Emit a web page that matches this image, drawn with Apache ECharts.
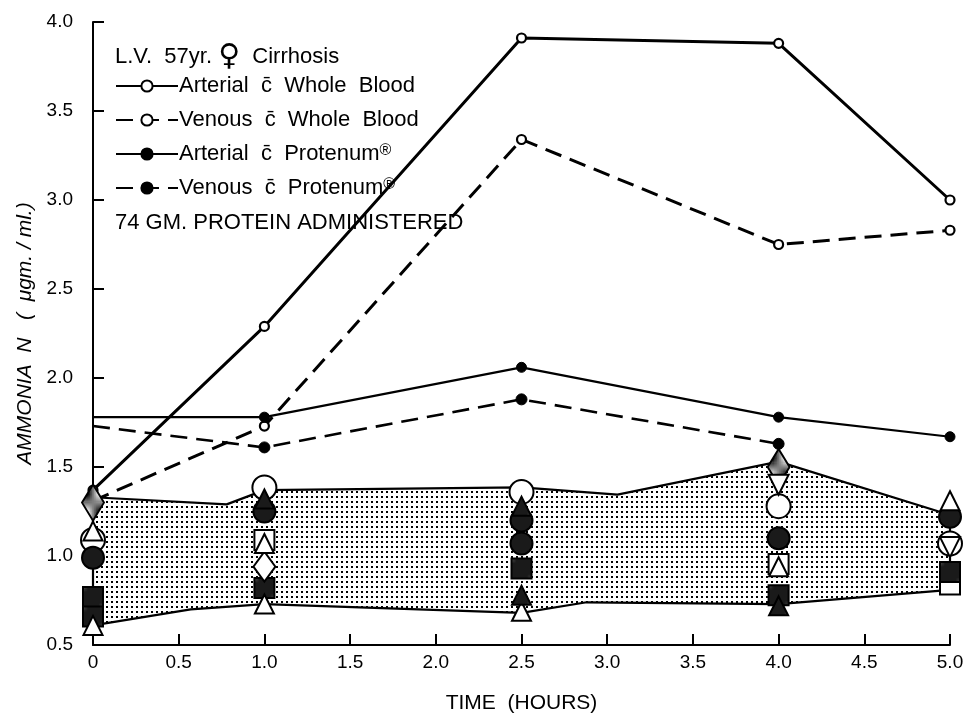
<!DOCTYPE html>
<html>
<head>
<meta charset="utf-8">
<script src="https://cdn.jsdelivr.net/npm/echarts@6/dist/echarts.min.js"></script>
<style>html,body{margin:0;padding:0;background:#fff;}#c{width:968px;height:714px;}</style>
</head>
<body>
<div id="c"></div>
<script>
// ---- data ----
const xTicks = [0, 0.5, 1.0, 1.5, 2.0, 2.5, 3.0, 3.5, 4.0, 4.5, 5.0];
const times = [0, 1.0, 2.5, 4.0, 5.0];
const arterialWB = [1.37, 2.29, 3.91, 3.88, 3.00];
const venousWB   = [1.31, 1.73, 3.34, 2.75, 2.83];
const protTimes  = [0, 1.0, 2.5, 4.0, 5.0];
const arterialPR = [1.78, 1.78, 2.06, 1.78, 1.67];
const venousPRTimes = [0, 1.0, 2.5, 4.0];
const venousPR   = [1.73, 1.61, 1.88, 1.63];
// normal range band
const bandTopX = [0, 0.78, 1.0, 2.5, 3.06, 4.0, 5.0];
const bandTopY = [1.33, 1.29, 1.37, 1.385, 1.345, 1.53, 1.23];
const bandBotX = [0, 0.57, 1.0, 2.5, 2.88, 4.0, 5.0];
const bandBotY = [0.61, 0.70, 0.73, 0.68, 0.74, 0.73, 0.81];
// individual control markers
const openCircles   = [[0,1.09],[1,1.385],[2.5,1.36],[4,1.28],[5,1.07]];
const dotCircles    = [[0,0.99],[1,1.25],[2.5,1.20],[2.5,1.07],[4,1.10],[5,1.22]];
const openTriangles = [[0,0.61],[0,1.14],[1,0.73],[1,1.07],[2.5,0.69],[4,0.94],[5,1.31]];
const darkTriangles = [[1,1.32],[2.5,1.28],[2.5,0.78],[4,0.72]];
const downTriangles = [[4,1.40],[5,1.05]];
const openDiamonds  = [[1,0.94]];
const dotDiamonds   = [[0,1.30],[4,1.50]];
const openSquares   = [[1,1.09],[4,0.955],[5,0.84]];
const darkSquares   = [[0,0.77],[0,0.66],[1,0.82],[2.5,0.93],[4,0.78],[5,0.91]];
const legendNames = ['Arterial', 'Venous ', 'Arterial ', 'Venous  '];
const legendTexts = ['Arterial  c\u0304  Whole  Blood', 'Venous  c\u0304  Whole  Blood', 'Arterial  c\u0304  Protenum', 'Venous  c\u0304  Protenum'];

// ---- patterns ----
function makePattern(size, bg, fg, dots) {
  const c = document.createElement('canvas');
  c.width = size; c.height = size;
  const g = c.getContext('2d');
  g.fillStyle = bg; g.fillRect(0, 0, size, size);
  g.fillStyle = fg;
  dots.forEach(d => g.fillRect(d[0], d[1], d[2], d[2]));
  return c;
}
const bandCanvas = makePattern(5, '#ffffff', '#000000', [[1,1,2]]);
const speckCanvas = makePattern(5, '#1a1a1a', '#ffffff', [[1,1,1],[3,3,1]]);
const lightSpeckCanvas = makePattern(4, '#ffffff', '#000000', [[0,0,2],[2,2,2]]);
const bandPattern = { image: bandCanvas, repeat: 'repeat' };
const speckPattern = { image: speckCanvas, repeat: 'repeat' };
const lightSpeck = { image: lightSpeckCanvas, repeat: 'repeat' };

const FONT = '"Liberation Sans", Arial, sans-serif';
const zip = (xs, ys) => xs.map((x, i) => [x, ys[i]]);

const chart = echarts.init(document.getElementById('c'));

function markerSeries(name, data, symbol, size, fill, extra) {
  return Object.assign({
    name: name, type: 'scatter', data: data, symbol: symbol, symbolSize: size,
    itemStyle: { color: fill, borderColor: '#000', borderWidth: 2, opacity: 1 },
    z: 4, silent: true
  }, extra || {});
}

const option = {
  backgroundColor: '#fff',
  animation: false,
  title: [
    { text: 'L.V.  57yr. {g|\u2640}  Cirrhosis', left: 110, top: 37,
      textStyle: { fontFamily: FONT, fontSize: 22, fontWeight: 'normal', color: '#000',
        rich: { g: { fontFamily: '"DejaVu Sans", sans-serif', fontSize: 30, color: '#000' } } } },
    { text: '74 GM. PROTEIN ADMINISTERED', left: 110, top: 207,
      textStyle: { fontFamily: FONT, fontSize: 22, fontWeight: 'normal', color: '#000' } }
  ],
  legend: {
    orient: 'vertical', left: 110, top: 70, itemGap: 12, itemWidth: 62, itemHeight: 14,
    data: legendNames,
    formatter: function (name) {
      const i = legendNames.indexOf(name);
      return legendTexts[i] + (i >= 2 ? '{r|\u00AE}' : '');
    },
    textStyle: { fontFamily: FONT, fontSize: 22, lineHeight: 22, color: '#000', padding: [0, 0, 0, -4],
      rich: { r: { fontFamily: FONT, fontSize: 16, lineHeight: 22, color: '#000', verticalAlign: 'top' } } },
    selectedMode: false
  },
  grid: { left: 93, right: 18, top: 22, bottom: 69, containLabel: false, outerBoundsMode: 'none' },
  xAxis: {
    type: 'value', min: 0, max: 5, interval: 0.5,
    name: 'TIME  (HOURS)', nameLocation: 'middle', nameGap: 48,
    nameTextStyle: { fontFamily: FONT, fontSize: 21, color: '#000' },
    axisLine: { show: true, onZero: false, lineStyle: { color: '#000', width: 2 } },
    axisTick: { show: true, inside: true, length: 11, lineStyle: { color: '#000', width: 2 } },
    axisLabel: { fontFamily: FONT, fontSize: 19, color: '#000', margin: 8,
      formatter: v => (v === 0 ? '0' : v.toFixed(1)) },
    splitLine: { show: false }
  },
  yAxis: {
    type: 'value', min: 0.5, max: 4.0, interval: 0.5,
    name: 'AMMONIA  N   (  \u03BCgm. / ml.)', nameLocation: 'middle', nameGap: 56,
    nameTextStyle: { fontFamily: FONT, fontSize: 21, fontStyle: 'italic', color: '#000' },
    axisLine: { show: true, onZero: false, lineStyle: { color: '#000', width: 2 } },
    axisTick: { show: true, inside: true, length: 11, lineStyle: { color: '#000', width: 2 } },
    axisLabel: { fontFamily: FONT, fontSize: 19, color: '#000', margin: 20,
      formatter: v => v.toFixed(1) },
    splitLine: { show: false }
  },
  series: [
    {
      name: 'band', type: 'custom', silent: true, z: 1,
      data: zip(bandTopX, bandTopY),
      encode: { x: 0, y: 1 },
      renderItem: function (params, api) {
        if (params.dataIndex !== 0) return null;
        const pts = [];
        for (let i = 0; i < bandTopX.length; i++) pts.push(api.coord([bandTopX[i], bandTopY[i]]));
        for (let i = bandBotX.length - 1; i >= 0; i--) pts.push(api.coord([bandBotX[i], bandBotY[i]]));
        return { type: 'polygon', shape: { points: pts },
          style: { fill: bandPattern, stroke: '#000', lineWidth: 2.2, lineJoin: 'round' } };
      }
    },
    {
      name: legendNames[0], type: 'line', data: zip(times, arterialWB), z: 3,
      symbol: 'circle', symbolSize: 9, showSymbol: true,
      lineStyle: { color: '#000', width: 3, type: 'solid' },
      itemStyle: { color: '#fff', borderColor: '#000', borderWidth: 2.2 }
    },
    {
      name: legendNames[1], type: 'line', data: zip(times, venousWB), z: 3,
      symbol: 'circle', symbolSize: 9,
      lineStyle: { color: '#000', width: 3, type: [17, 9] },
      itemStyle: { color: '#fff', borderColor: '#000', borderWidth: 2.2 }
    },
    {
      name: legendNames[2], type: 'line', z: 3,
      data: zip(protTimes, arterialPR).map((p, i) => i === 0 ? { value: p, symbol: 'none' } : p),
      symbol: 'circle', symbolSize: 10,
      lineStyle: { color: '#000', width: 2.2, type: 'solid' },
      itemStyle: { color: '#000', borderColor: '#000', borderWidth: 1 }
    },
    {
      name: legendNames[3], type: 'line', z: 3,
      data: zip(venousPRTimes, venousPR).map((p, i) => i === 0 ? { value: p, symbol: 'none' } : p),
      symbol: 'circle', symbolSize: 11,
      lineStyle: { color: '#000', width: 2.6, type: [17, 9] },
      itemStyle: { color: '#000', borderColor: '#000', borderWidth: 1 }
    },
    markerSeries('openCircles', openCircles, 'circle', 24, '#fff'),
    markerSeries('dotCircles', dotCircles, 'circle', 22, speckPattern),
    markerSeries('openSquares', openSquares, 'rect', 20, '#fff'),
    markerSeries('darkSquares', darkSquares, 'rect', 20, speckPattern),
    markerSeries('dotDiamonds', dotDiamonds, 'diamond', [22, 36], lightSpeck),
    markerSeries('openDiamonds', openDiamonds, 'diamond', [22, 30], '#fff'),
    markerSeries('downTriangles', downTriangles, 'triangle', 20, '#fff', { symbolRotate: 180 }),
    markerSeries('openTriangles', openTriangles, 'triangle', 19, '#fff'),
    markerSeries('darkTriangles', darkTriangles, 'triangle', 19, speckPattern)
  ]
};
chart.setOption(option);
</script>
</body>
</html>
